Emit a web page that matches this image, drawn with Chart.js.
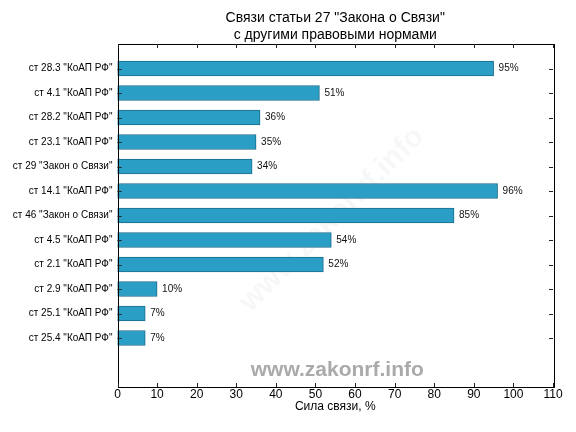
<!DOCTYPE html>
<html>
<head>
<meta charset="utf-8">
<script src="https://cdn.jsdelivr.net/npm/chart.js@4.4.1/dist/chart.umd.min.js"></script>
<style>
  html, body { margin: 0; padding: 0; background: #fff; }
  #wrap { width: 576px; height: 432px; }
</style>
</head>
<body>
<div id="wrap"><canvas id="links-chart"></canvas></div>
<script>
  // данные (сверху вниз)
  const categories = [
    'ст 28.3 "КоАП РФ"',
    'ст 4.1 "КоАП РФ"',
    'ст 28.2 "КоАП РФ"',
    'ст 23.1 "КоАП РФ"',
    'ст 29 "Закон о Связи"',
    'ст 14.1 "КоАП РФ"',
    'ст 46 "Закон о Связи"',
    'ст 4.5 "КоАП РФ"',
    'ст 2.1 "КоАП РФ"',
    'ст 2.9 "КоАП РФ"',
    'ст 25.1 "КоАП РФ"',
    'ст 25.4 "КоАП РФ"'
  ];
  const strength = [95, 51, 36, 35, 34, 96, 85, 54, 52, 10, 7, 7];
  const xTicks = [0, 10, 20, 30, 40, 50, 60, 70, 80, 90, 100, 110];
  const titleLines = ['Связи статьи 27 "Закона о Связи"', 'с другими правовыми нормами'];
  const xTitle = 'Сила связи, %';
  const watermark = 'www.zakonrf.info';

  const positions = categories.map((c, i) => i + 1);
  const font = 'Arial, "Liberation Sans", sans-serif';

  // рамка, засечки внутрь, заголовок, подписи и водяные знаки
  const decor = {
    id: 'decor',
    beforeDatasetsDraw(chart) {
      const { ctx, chartArea: a } = chart;
      ctx.save();
      ctx.translate((a.left + a.right) / 2 - 3, (a.top + a.bottom) / 2 + 4);
      ctx.rotate(-Math.PI / 4);
      ctx.fillStyle = 'rgba(0,0,0,0.03)';
      ctx.font = 'bold 30px ' + font;
      ctx.textAlign = 'center';
      ctx.textBaseline = 'middle';
      ctx.fillText(watermark, 0, 0);
      ctx.restore();
    },
    afterDatasetsDraw(chart) {
      const { ctx, chartArea: a, scales } = chart;
      ctx.save();
      // подписи значений
      const meta = chart.getDatasetMeta(0);
      ctx.fillStyle = '#111';
      ctx.font = '10px ' + font;
      ctx.textAlign = 'left';
      ctx.textBaseline = 'middle';
      meta.data.forEach((bar, i) => {
        ctx.fillText(strength[i] + '%', bar.x + 5, bar.y);
      });
      // водяной знак снизу
      ctx.fillStyle = '#aaaaaa';
      ctx.font = 'bold 21px ' + font;
      ctx.textAlign = 'center';
      ctx.fillText(watermark, (a.left + a.right) / 2 + 2, 370);
      // рамка
      ctx.strokeStyle = '#000';
      ctx.lineWidth = 1;
      ctx.strokeRect(Math.round(a.left) + 0.5, Math.round(a.top) + 0.5,
        Math.round(a.right - a.left), Math.round(a.bottom - a.top));
      // засечки
      ctx.strokeStyle = '#222';
      ctx.beginPath();
      xTicks.forEach(v => {
        const x = Math.round(scales.x.getPixelForValue(v)) + 0.5;
        ctx.moveTo(x, a.bottom); ctx.lineTo(x, a.bottom - 4);
        ctx.moveTo(x, a.top); ctx.lineTo(x, a.top + 4);
      });
      positions.forEach(v => {
        const y = Math.round(scales.y.getPixelForValue(v)) + 0.5;
        ctx.moveTo(a.left, y); ctx.lineTo(a.left + 4, y);
        ctx.moveTo(a.right, y); ctx.lineTo(a.right - 4, y);
      });
      ctx.stroke();
      // заголовок
      ctx.fillStyle = '#000';
      ctx.font = '14px ' + font;
      ctx.textAlign = 'center';
      ctx.textBaseline = 'middle';
      const cx = (a.left + a.right) / 2;
      ctx.fillText(titleLines[0], cx, 18);
      ctx.fillText(titleLines[1], cx, 35);
      ctx.restore();
    }
  };

  const ctx = document.getElementById('links-chart').getContext('2d');
  const linksChart = new Chart(ctx, {
    type: 'bar',
    data: {
      datasets: [{
        data: strength.map((v, i) => ({ x: v, y: positions[i] })),
        backgroundColor: 'rgb(42,158,197)',
        borderColor: 'rgb(24,108,138)',
        borderWidth: 1,
        borderSkipped: false,
        barThickness: 15
      }]
    },
    options: {
      indexAxis: 'y',
      responsive: true,
      maintainAspectRatio: false,
      animation: false,
      layout: { padding: { top: 44, right: 23, left: 0, bottom: 18 } },
      plugins: {
        legend: { display: false },
        tooltip: { enabled: false },
        title: { display: false }
      },
      scales: {
        x: {
          type: 'linear',
          min: 0,
          max: 110,
          afterBuildTicks: s => { s.ticks = xTicks.map(v => ({ value: v })); },
          afterFit: s => { s.height = 27; },
          grid: { display: false, drawTicks: false },
          border: { display: false },
          ticks: { color: '#000', font: { family: font, size: 12 }, padding: 0, maxRotation: 0 },
          title: { display: true, text: xTitle, color: '#000', font: { family: font, size: 12 }, padding: { top: 0, bottom: 0 } }
        },
        y: {
          type: 'linear',
          reverse: true,
          offset: false,
          min: 0,
          max: 14,
          afterBuildTicks: s => { s.ticks = positions.map(v => ({ value: v })); },
          afterFit: s => { s.width = 117.5; },
          grid: { display: false, drawTicks: false },
          border: { display: false },
          ticks: {
            color: '#000',
            font: { family: font, size: 10 },
            padding: 5,
            callback: v => categories[v - 1]
          }
        }
      }
    },
    plugins: [decor]
  });
</script>
</body>
</html>
